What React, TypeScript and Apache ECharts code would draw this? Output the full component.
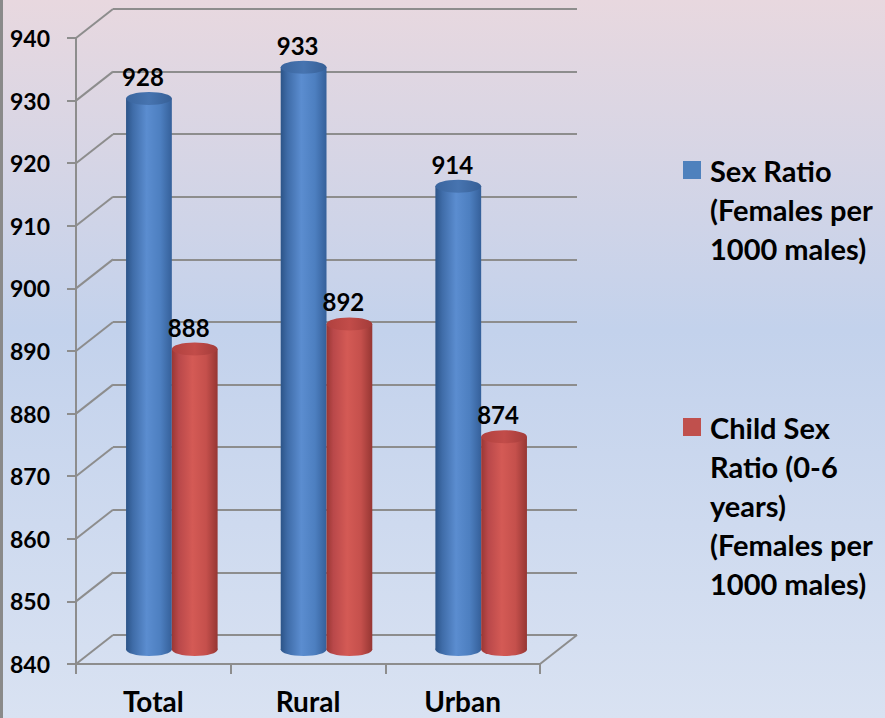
import React, { useEffect, useRef } from "react";
import * as echarts from "echarts";

const categories = ["Total", "Rural", "Urban"];
const sexRatio = [928, 933, 914];
const childSexRatio = [888, 892, 874];
const seriesNames = [
  "Sex Ratio\n(Females per\n1000 males)",
  "Child Sex\nRatio (0-6\nyears)\n(Females per\n1000 males)",
];
const yTicks = [840, 850, 860, 870, 880, 890, 900, 910, 920, 930, 940];
const Y_MIN = 840;
const Y_MAX = 940;
const Y_STEP = 10;

const FONT = "Lato";
const WEIGHT = "bold";
const GRID_COLOR = "#8d8d8d";
const DX = 37;
const DY = -29;
const FRONT = { left: 76, top: 38, width: 464, height: 626 };

const PALETTES = [
  {
    legend: "#4f81bd",
    body: [
      [0, "#2c5488"],
      [0.15, "#3f6ca8"],
      [0.45, "#5b8dd0"],
      [0.75, "#4d7fc0"],
      [1, "#35609a"],
    ],
    top: [
      [0, "#3a659e"],
      [0.5, "#4774b0"],
      [1, "#365f96"],
    ],
  },
  {
    legend: "#c0504d",
    body: [
      [0, "#9a3734"],
      [0.15, "#b9484a"],
      [0.45, "#d45a55"],
      [0.75, "#c5504c"],
      [1, "#963633"],
    ],
    top: [
      [0, "#b0413f"],
      [0.5, "#c24c49"],
      [1, "#a33c3a"],
    ],
  },
];

function grad(stops: any[]) {
  return new echarts.graphic.LinearGradient(
    0,
    0,
    1,
    0,
    stops.map(([offset, color]) => ({ offset, color }))
  );
}

function cylinderRenderer(idx: number) {
  return (params: any, api: any) => {
    const cat = api.value(0);
    const v = api.value(1);
    const top = api.coord([cat, v]);
    const base = api.coord([cat, Y_MIN]);
    const band = api.size([1, 0])[0];
    const w = band * 0.296;
    const cx = top[0] + DX / 2 + (idx === 0 ? -w / 2 : w / 2);
    const ty = top[1] + DY / 2;
    const by = base[1] + DY / 2;
    const ry = 6.5;
    const pal = PALETTES[idx];
    return {
      type: "group",
      children: [
        {
          type: "rect",
          shape: { x: cx - w / 2, y: ty, width: w, height: by - ty },
          style: { fill: grad(pal.body) },
        },
        {
          type: "ellipse",
          shape: { cx, cy: by, rx: w / 2, ry },
          style: { fill: grad(pal.body) },
        },
        {
          type: "ellipse",
          shape: { cx, cy: ty, rx: w / 2, ry },
          style: { fill: grad(pal.top) },
        },
        {
          type: "text",
          style: {
            text: String(v),
            x: cx - 6,
            y: ty - 22,
            align: "center",
            verticalAlign: "middle",
            fontFamily: FONT,
            fontWeight: WEIGHT,
            fontSize: 24,
            fill: "#000",
          },
        },
      ],
    };
  };
}

function connectorRenderer(params: any, api: any) {
  const v = api.value(1);
  const p = api.coord([0, v]);
  const cs = params.coordSys;
  const children: any[] = [
    {
      type: "line",
      shape: { x1: cs.x, y1: p[1], x2: cs.x + DX, y2: p[1] + DY },
      style: { stroke: GRID_COLOR, lineWidth: 2 },
    },
  ];
  if (v === Y_MIN) {
    children.push({
      type: "line",
      shape: {
        x1: cs.x + cs.width,
        y1: p[1],
        x2: cs.x + cs.width + DX,
        y2: p[1] + DY,
      },
      style: { stroke: GRID_COLOR, lineWidth: 2 },
    });
  }
  return { type: "group", children };
}

export default function App() {
  const ref = useRef<HTMLDivElement>(null);
  useEffect(() => {
    if (!ref.current) return;
    const chart = echarts.init(ref.current, null, { renderer: "svg" });

    const legendGraphics: any[] = [];
    const legendTops = [170, 427];
    seriesNames.forEach((name, i) => {
      legendGraphics.push({
        type: "rect",
        shape: { x: 683, y: legendTops[i] - 9, width: 18, height: 18 },
        style: { fill: PALETTES[i].legend },
      });
      legendGraphics.push({
        type: "text",
        style: {
          text: name,
          x: 710,
          y: legendTops[i] - 19.5,
          align: "left",
          verticalAlign: "top",
          lineHeight: 39,
          fontFamily: FONT,
          fontWeight: WEIGHT,
          fontSize: 29,
          fill: "#000",
        },
      });
    });

    const axisLine = { show: true, lineStyle: { color: GRID_COLOR, width: 2 } };

    chart.setOption({
      animation: false,
      backgroundColor: {
        type: "linear",
        x: 0,
        y: 0,
        x2: 0,
        y2: 1,
        colorStops: [
          { offset: 0, color: "#e8d8df" },
          { offset: 0.46, color: "#c3d2ec" },
          { offset: 1, color: "#d9e2f2" },
        ],
      },
      grid: [
        { left: FRONT.left, top: FRONT.top, width: FRONT.width, height: FRONT.height },
        {
          left: FRONT.left + DX,
          top: FRONT.top + DY,
          width: FRONT.width,
          height: FRONT.height,
        },
      ],
      xAxis: [
        {
          type: "category",
          gridIndex: 0,
          data: categories,
          axisLine,
          axisTick: { show: true, length: 10, lineStyle: { color: GRID_COLOR, width: 2 } },
          axisLabel: {
            margin: 23,
            color: "#000",
            fontFamily: FONT,
            fontWeight: WEIGHT,
            fontSize: 28,
            lineHeight: 28,
          },
          splitLine: { show: false },
        },
        {
          type: "category",
          gridIndex: 1,
          data: categories,
          show: false,
        },
      ],
      yAxis: [
        {
          type: "value",
          gridIndex: 0,
          min: Y_MIN,
          max: Y_MAX,
          interval: Y_STEP,
          axisLine,
          axisTick: { show: true, length: 9, lineStyle: { color: GRID_COLOR, width: 2 } },
          axisLabel: {
            margin: 26,
            color: "#000",
            fontFamily: FONT,
            fontWeight: WEIGHT,
            fontSize: 23,
          },
          splitLine: { show: false },
        },
        {
          type: "value",
          gridIndex: 1,
          min: Y_MIN,
          max: Y_MAX,
          interval: Y_STEP,
          axisLine: { show: false },
          axisTick: { show: false },
          axisLabel: { show: false },
          splitLine: { show: true, lineStyle: { color: GRID_COLOR, width: 2 } },
        },
      ],
      graphic: [
        {
          type: "rect",
          shape: { x: 0, y: 0, width: 3, height: 718 },
          style: { fill: "#8a8a8a" },
        },
        ...legendGraphics,
      ],
      series: [
        {
          type: "custom",
          name: "connectors",
          xAxisIndex: 0,
          yAxisIndex: 0,
          z: 1,
          silent: true,
          data: yTicks.map((v) => [0, v]),
          renderItem: connectorRenderer,
        },
        {
          type: "custom",
          name: seriesNames[0],
          xAxisIndex: 0,
          yAxisIndex: 0,
          z: 3,
          data: sexRatio.map((v, i) => [i, v]),
          renderItem: cylinderRenderer(0),
        },
        {
          type: "custom",
          name: seriesNames[1],
          xAxisIndex: 0,
          yAxisIndex: 0,
          z: 4,
          data: childSexRatio.map((v, i) => [i, v]),
          renderItem: cylinderRenderer(1),
        },
      ],
    });
    return () => chart.dispose();
  }, []);
  return (
    <div
      ref={ref}
      style={{ position: "fixed", left: 0, top: 0, width: 885, height: 718 }}
    />
  );
}
